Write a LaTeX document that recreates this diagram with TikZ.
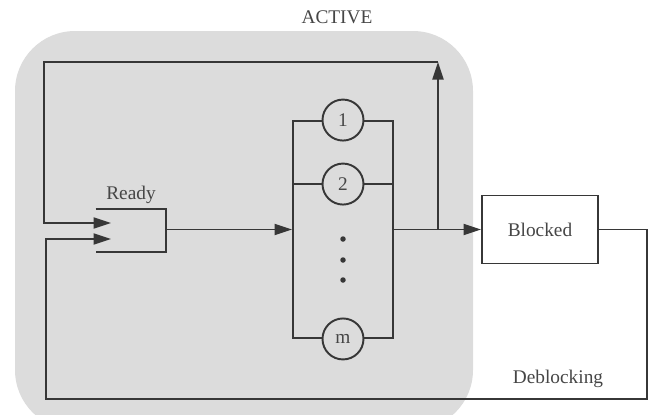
\documentclass[tikz,border=0pt]{standalone}
\usepackage{fontspec}
\setmainfont{Liberation Serif}
\usetikzlibrary{arrows.meta,positioning,calc}
\definecolor{Tinta}{RGB}{55,55,55}
\definecolor{TextoGris}{RGB}{70,70,70}
\definecolor{Sombra}{RGB}{220,220,220}
\tikzset{
  labeltxt/.style={font=\fontsize{11}{13}\selectfont, text=TextoGris, inner sep=1pt},
  queuebox/.style={minimum width=1.4cm, minimum height=0.84cm, inner sep=0pt},
  procbox/.style={draw=Tinta, line width=1.1pt, minimum width=2cm, minimum height=4.34cm, inner sep=0pt},
  cpunode/.style={circle, draw=Tinta, line width=1.1pt, fill=Sombra, minimum size=0.82cm,
    inner sep=0pt, font=\fontsize{11}{13}\selectfont, text=TextoGris},
  dotnode/.style={circle, fill=Tinta, minimum size=0.11cm, inner sep=0pt},
  blockbox/.style={draw=Tinta, line width=1.1pt, fill=white, minimum width=2.32cm,
    minimum height=1.36cm, font=\fontsize{11}{13}\selectfont, text=TextoGris},
  flowline/.style={draw=Tinta, line width=1.1pt},
  flowarr/.style={flowline, -{Triangle[length=3.5mm, width=2.2mm]}},
}
\begin{document}
\begin{tikzpicture}[x=0.02cm, y=-0.02cm]
    \useasboundingbox (0,0) rectangle (650,414);
    % ---- zona activa ----
    \fill[Sombra, rounded corners=1.2cm] (15,31) rectangle (473,430);
    \node[labeltxt] (active) at (337,17) {ACTIVE};

    \node[queuebox] (ready) at (131,230.5) {};
    \node[labeltxt, above=2pt of ready] (readylab) {Ready};
    \draw[flowline] (ready.north west) -- (ready.north east) -- (ready.south east) -- (ready.south west);

    \node[procbox] (proc) at (343,229.5) {};
    \node[cpunode] (c1) at (proc.north) {1};
    \node[cpunode] (c2) at ($(proc.north)+(0,64)$) {2};
    \node[cpunode] (cm) at (proc.south) {m};
    \draw[flowline] (proc.west |- c2.west) -- (c2.west);
    \draw[flowline] (c2.east) -- (proc.east |- c2.east);
    \foreach \yy [count=\i] in {239,260,280}
      \node[dotnode] (dot\i) at (343,\yy) {};

    \node[blockbox] (blocked) at (540,229.5) {Blocked};
    \node[labeltxt] (deblab) at (558,379) {Deblocking};

    \coordinate (split) at (438,229.5);
    \coordinate (topR) at (438,62);
    \coordinate (topL) at (44,62);
    \coordinate (botL) at (46,399);
    \coordinate (in1) at (111,223);
    \coordinate (in2) at (111,239);

    \draw[flowarr] (ready.east |- proc.west) -- (proc.west);
    \draw[flowarr] (proc.east) -- (blocked.west);
    \draw[flowarr] (split) -- (topR);
    \draw[flowarr] (topR) -- (topL) |- (in1);
    \draw[flowarr] (blocked.east) -- ++(48,0) |- (botL) |- (in2);
  \end{tikzpicture}
\end{document}
